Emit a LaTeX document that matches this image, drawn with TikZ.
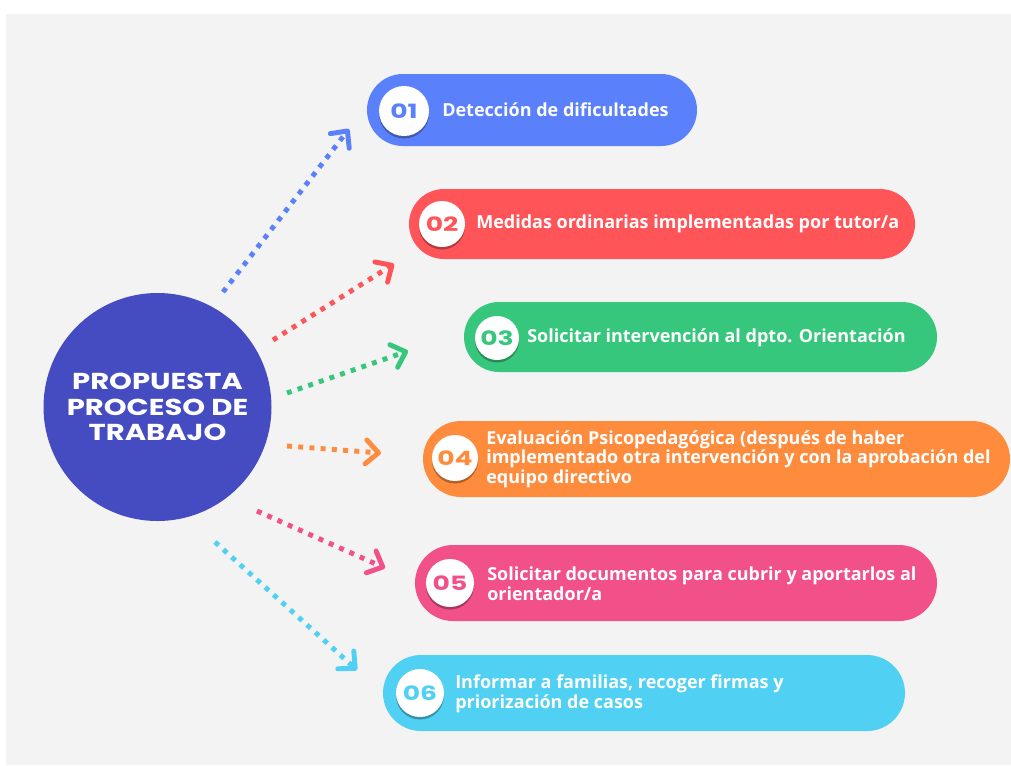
\documentclass[tikz,border=0pt]{standalone}
\usepackage{fontspec}
\setmainfont{Open Sans}
\newfontfamily\hubfont[FakeStretch=1.26]{Poppins}
\newfontfamily\numfont[FakeStretch=1.35]{Poppins}
\usetikzlibrary{arrows.meta,shadows}

\definecolor{bgcol}{HTML}{F3F3F3}
\definecolor{hubcol}{HTML}{454BC0}
\definecolor{bluecol}{HTML}{5A80FB}
\definecolor{redcol}{HTML}{FF5558}
\definecolor{greencol}{HTML}{37C77C}
\definecolor{orangecol}{HTML}{FF8B3D}
\definecolor{pinkcol}{HTML}{F25088}
\definecolor{cyancol}{HTML}{50D0F2}

% one unit = one pixel of the layout
\newlength\pxu
\setlength\pxu{0.025cm}

\begin{document}
\begin{tikzpicture}[x=0.025cm,y=-0.025cm,
  pill/.style={rectangle,inner sep=0pt},
  numdisc/.style={circle,fill=white,inner sep=0pt,
    font=\numfont\bfseries\fontsize{14pt}{14pt}\selectfont,
    drop shadow={shadow xshift=0pt,shadow yshift=-2.5\pxu,fill=black,opacity=0.3}},
  steptext/.style={anchor=west,align=left,text=white,inner sep=0pt,
    font=\bfseries\fontsize{12.8pt}{13.9pt}\selectfont},
  flow/.style={line width=3.5pt,dash pattern=on 3.5pt off 4.5pt,
    -{Straight Barb[length=9pt,width=17pt,round]}}]
\useasboundingbox (0,0) rectangle (1011,765);
\fill[bgcol] (6,14) rectangle (1011,765);

% centre
\path (157.5,407) node (hub) [circle,fill=hubcol,minimum size=228\pxu,text=white,align=center,
  font=\hubfont\bfseries\fontsize{16.4pt}{18.1pt}\selectfont] {PROPUESTA\\PROCESO DE\\TRABAJO};

% steps
\path (532,110) node (detec) [pill,fill=bluecol,minimum width=330\pxu,minimum height=72\pxu,rounded corners=36\pxu] {};
\path (662,224) node (medid) [pill,fill=redcol,minimum width=506\pxu,minimum height=70\pxu,rounded corners=35\pxu] {};
\path (700.5,337) node (solic) [pill,fill=greencol,minimum width=473\pxu,minimum height=70\pxu,rounded corners=35\pxu] {};
\path (716.5,459) node (evalu) [pill,fill=orangecol,minimum width=587\pxu,minimum height=76\pxu,rounded corners=38\pxu] {};
\path (676,583) node (docum) [pill,fill=pinkcol,minimum width=522\pxu,minimum height=76\pxu,rounded corners=38\pxu] {};
\path (644,693) node (infor) [pill,fill=cyancol,minimum width=522\pxu,minimum height=76\pxu,rounded corners=38\pxu] {};

\path (404,111) node (detecnum) [numdisc,minimum size=50\pxu,text=bluecol] {01};
\path (442,224) node (medidnum) [numdisc,minimum size=46\pxu,text=redcol] {02};
\path (497,338) node (solicnum) [numdisc,minimum size=44\pxu,text=greencol] {03};
\path (455,458) node (evalunum) [numdisc,minimum size=46\pxu,text=orangecol] {04};
\path (450,583) node (documnum) [numdisc,minimum size=48\pxu,text=pinkcol] {05};
\path (420,693) node (infornum) [numdisc,minimum size=48\pxu,text=cyancol] {06};

\path (442,110) node (detectxt) [steptext] {Detección de dificultades};
\path (476,224) node (medidtxt) [steptext] {Medidas ordinarias implementadas por tutor/a};
\path (527,338) node (solictxt) [steptext] {Solicitar intervención al dpto. Orientación};
\path (486,459) node (evalutxt) [steptext] {Evaluación Psicopedagógica (después de haber\\implementado otra intervención y con la aprobación del\\equipo directivo};
\path (487,584) node (documtxt) [steptext] {Solicitar documentos para cubrir y aportarlos al\\orientador/a};
\path (455,694) node (infortxt) [steptext] {Informar a familias, recoger firmas y\\priorización de casos};

% arrow ends
\coordinate (detecfrom) at (223,292);  \coordinate (detecto) at (349,129);
\coordinate (medidfrom) at (273,340);  \coordinate (medidto) at (394,264);
\coordinate (solicfrom) at (287,393);  \coordinate (solicto) at (408,351);
\coordinate (evalufrom) at (287,446);  \coordinate (evaluto) at (381,453);
\coordinate (documfrom) at (257,511);  \coordinate (documto) at (385,568);
\coordinate (inforfrom) at (215,542);  \coordinate (inforto) at (357,670);

\draw [flow,bluecol] (detecfrom) to (detecto);
\draw [flow,redcol] (medidfrom) to (medidto);
\draw [flow,greencol] (solicfrom) to (solicto);
\draw [flow,orangecol] (evalufrom) to (evaluto);
\draw [flow,pinkcol] (documfrom) to (documto);
\draw [flow,cyancol] (inforfrom) to (inforto);
\end{tikzpicture}
\end{document}
